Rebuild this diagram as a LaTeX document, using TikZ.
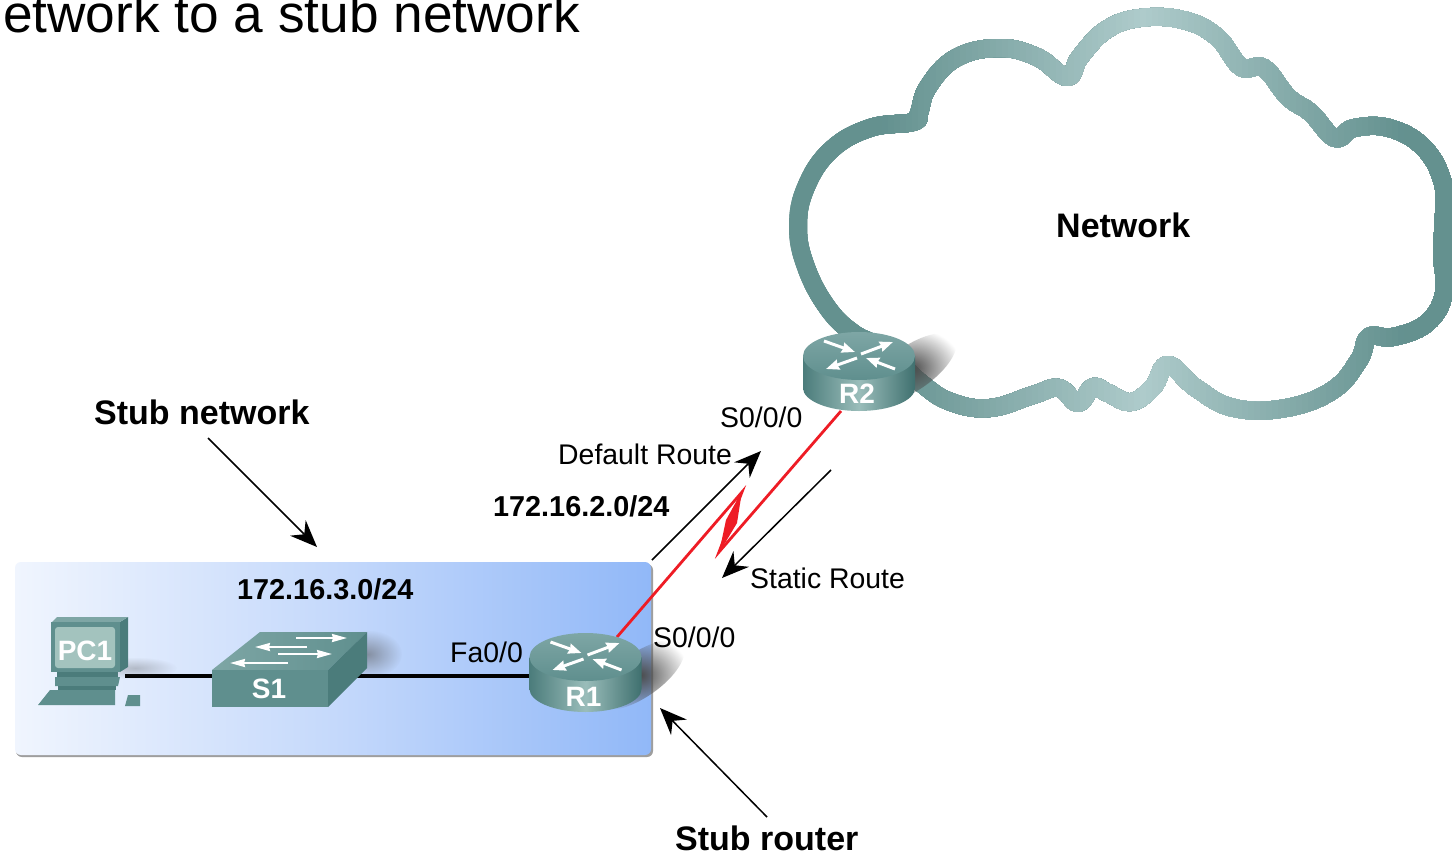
\documentclass[tikz,border=0pt]{standalone}
\usepackage{fontspec}
\setmainfont{Liberation Sans}
\usetikzlibrary{arrows.meta,fadings}
\definecolor{cloudD}{HTML}{64918F}
\definecolor{cloudL}{HTML}{AECBCB}
\definecolor{boxL}{HTML}{F0F5FE}
\definecolor{boxM}{HTML}{C5D9FB}
\definecolor{boxR}{HTML}{91B8F8}
\definecolor{tealA}{HTML}{3F706F}
\definecolor{tealB}{HTML}{9ABDBA}
\definecolor{tealC}{HTML}{5F8F8E}
\definecolor{tealD}{HTML}{7EA6A5}
\definecolor{tealE}{HTML}{4B7C7B}
\definecolor{screenc}{HTML}{A3C3BE}
\definecolor{linkred}{HTML}{EE1C25}
\tikzfading[name=softglow,inner color=transparent!0,outer color=transparent!100]
\newcommand{\cloudpath}{plot[smooth cycle,tension=0.7] coordinates {
(853,333)(827,307)(806,267)(798,227)(806,187)(831,150)(870,128)(913,122)(919,113)(928,87)(956,58)(999,48)(1037,57)(1067,77)(1080,57)(1106,30)(1140,18)(1183,20)(1217,37)(1241,67)(1264,68)(1288,97)(1311,113)(1335,138)(1354,128)(1389,128)(1423,147)(1442,180)(1444,213)(1442,253)(1444,293)(1427,323)(1393,337)(1369,337)(1359,360)(1333,390)(1286,408)(1234,408)(1196,388)(1168,365)(1153,387)(1131,402)(1108,393)(1093,387)(1078,403)(1059,388)(1033,395)(990,408)(951,402)(921,383)(885,350)}}
\tikzset{
  lab/.style={anchor=base west,inner sep=0pt,font=\fontsize{28.4}{30}\selectfont},
  blab/.style={anchor=base west,inner sep=0pt,font=\fontsize{34}{36}\selectfont\bfseries},
  iplab/.style={anchor=base west,inner sep=0pt,font=\fontsize{28.8}{30}\selectfont\bfseries},
  devlab/.style={inner sep=0pt,text=white,font=\fontsize{28}{30}\selectfont\bfseries},
  callout/.style={draw=black,line width=1.5pt,-{Stealth[length=27pt,width=22pt,inset=9pt]}},
  wire/.style={draw=black,line width=3.5pt},
  wan/.style={draw=linkred,line width=2.8pt,line join=miter},
  softshade/.style={fill=black!70,path fading=softglow,draw=none},
  sw arrow/.style={draw=white,line width=2pt,-{Stealth[length=15pt,width=8pt,inset=1pt]}},
  rt arrow/.style={draw=white,line width=3pt,-{Stealth[length=13pt,width=10pt,inset=1pt]}},
  pics/router/.style 2 args={code={
    \shade[left color=tealE,right color=tealA,middle color=tealB,shading angle=90]
      (-56,1) -- (-56,33) arc[start angle=180,end angle=0,x radius=56,y radius=23] -- (56,1) -- cycle;
    \shade[top color=tealD,bottom color=tealC] (0,1) ellipse[x radius=56,y radius=24];
    \draw[rt arrow] (-35,-14) -- (-4,-3);
    \draw[rt arrow] (2,-1) -- (34,-13);
    \draw[rt arrow] (-2,3) -- (-33,14);
    \draw[rt arrow] (36,14) -- (7,3);
    \node[devlab] (-lab) at (-2,#2) {#1};
  }}
}
\begin{document}
\begin{tikzpicture}[x=1pt,y=-1pt]
\useasboundingbox (0,0) rectangle (1452,852);
\fill[white] (0,0) rectangle (1452,852);

% heading cut by the top edge
\node[anchor=base west,inner sep=0pt,font=\fontsize{53.2}{55}\selectfont] (head) at (3,32) {etwork to a stub network};

% cloud: stroke painted in strips for a gradient along x
\foreach \sx in {780,786,...,1452}{
  \pgfmathsetmacro{\tv}{100*max(0,1-abs(\sx-1140)/260)}
  \colorlet{stripc}{cloudL!\tv!cloudD}
  \begin{scope}
    \clip (\sx,0) rectangle (1460,440);
    \draw[stripc,line width=18pt,line join=round] \cloudpath;
  \end{scope}
}
\node[blab] (net) at (1056,237) {Network};

% stub network box
\fill[black!38,rounded corners=6pt] (16,564) rectangle (653,757);
\shade[left color=boxL,right color=boxR,middle color=boxM,rounded corners=6pt] (15,562) rectangle (651,755);

% connectors
\coordinate (pcport) at (125,676);
\coordinate (swl) at (214,676);
\coordinate (swr) at (355,676);
\coordinate (r1w) at (532,676);
\coordinate (r1port) at (617,637);
\coordinate (r2port) at (841,411);
\coordinate (zigA) at (742,492);
\coordinate (zigB) at (719,552);
\draw[wire] (pcport) -- (swl);
\draw[wire] (swr) -- (r1w);
\draw[wan] (r1port) -- (zigA) -- (zigB) -- (r2port);
\fill[linkred] (742,491) -- (737,523) -- (719,553) -- (726,520) -- cycle;

% shadows
\fill[softshade,fill opacity=.3] (135,668) ellipse[x radius=42,y radius=11];
\fill[softshade,fill opacity=.5] (368,654) ellipse[x radius=34,y radius=24];
\begin{scope}[shift={(640,675)},rotate=35]
\fill[softshade] (0,0) ellipse[x radius=52,y radius=22];
\end{scope}
\begin{scope}[shift={(912,368)},rotate=35]
\fill[softshade] (0,0) ellipse[x radius=52,y radius=22];
\end{scope}

% PC1
\fill[tealE] (120,622) -- (128,617) -- (128,667) -- (120,672) -- cycle;
\fill[tealD] (52,622) -- (57,617) -- (128,617) -- (120,622) -- cycle;
\fill[tealC] (51,622) rectangle (120,672);
\fill[screenc,rounded corners=3pt] (55,627) rectangle (115,668);
\fill[tealE] (57,672) rectangle (118,677);
\fill[tealC] (55,677) -- (120,677) -- (118,686) -- (55,686) -- cycle;
\fill[tealE] (58,686) rectangle (116,690);
\fill[tealC] (50,690) -- (115,690) -- (115,705) -- (38,705) -- cycle;
\fill[tealC] (125,706) -- (128,695) -- (140,695) -- (140,706) -- cycle;
\node[devlab] (pc) at (85,651) {PC1};

% S1
\shade[left color=tealD,right color=tealC] (212,670) -- (260,632) -- (367,632) -- (328,670) -- cycle;
\fill[tealE] (328,670) -- (367,632) -- (367,668) -- (328,707) -- cycle;
\fill[tealC] (212,670) rectangle (328,707);
\draw[sw arrow] (296,638) -- (347,638);
\draw[sw arrow] (307,647) -- (255,647);
\draw[sw arrow] (278,654) -- (332,654);
\draw[sw arrow] (288,663) -- (230,663);
\node[devlab] (sw) at (269,689) {S1};

% routers
\pic (r1) at (585.5,656) {router={R1}{41}};
\pic (r2) at (859,355) {router={R2}{39}};

% labels
\node[blab] (stubnet) at (94,424) {Stub network};
\node[blab] (stubrt) at (675,850) {Stub router};
\node[iplab] (ip2) at (493,516) {172.16.2.0/24};
\node[iplab] (ip3) at (237,599) {172.16.3.0/24};
\node[lab] (fa) at (450,662) {Fa0/0};
\node[lab] (s1a) at (653,647) {S0/0/0};
\node[lab] (s2a) at (720,427) {S0/0/0};
\node[lab] (dflt) at (558,464) {Default Route};
\node[lab] (stat) at (750,588) {Static Route};

% callouts
\coordinate (a1s) at (208,438); \coordinate (a1e) at (317,547);
\coordinate (a2s) at (767,817); \coordinate (a2e) at (660,708);
\coordinate (a3s) at (652,560); \coordinate (a3e) at (761,451);
\coordinate (a4s) at (831,470); \coordinate (a4e) at (722,578);
\draw[callout] (a1s) -- (a1e);
\draw[callout] (a2s) -- (a2e);
\draw[callout] (a3s) -- (a3e);
\draw[callout] (a4s) -- (a4e);
\end{tikzpicture}
\end{document}
